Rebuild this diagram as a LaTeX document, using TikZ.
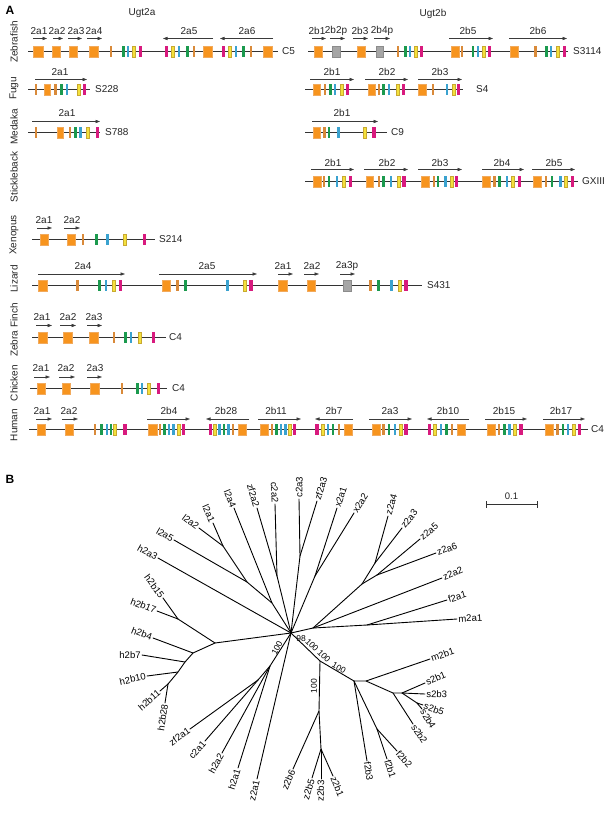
\documentclass[tikz,border=0pt]{standalone}
\usepackage{fontspec}
\setmainfont{Liberation Sans}
\usetikzlibrary{arrows.meta}
\definecolor{cOr}{HTML}{F7941E}
\definecolor{cOrE}{HTML}{F2AA5C}
\definecolor{cTan}{HTML}{D98A3A}
\definecolor{cGr}{HTML}{1B9A4E}
\definecolor{cBl}{HTML}{3AA2CF}
\definecolor{cYe}{HTML}{F3E13C}
\definecolor{cYeE}{HTML}{C9A930}
\definecolor{cMa}{HTML}{D81A7E}
\definecolor{cGy}{HTML}{A6A6A6}
\definecolor{cGyE}{HTML}{8C8C8C}
\definecolor{cLine}{HTML}{333333}
\definecolor{cArr}{HTML}{3A3A3A}
\newcount\nodecnt
\newcommand\exonbar[4]{\filldraw[#1] ({#2-#4},{\ry-5.8}) rectangle ({#2+#4},{\ry+5.8});}
\newcommand\ExT[1]{\exonbar{exT}{#1}{}{1.2}}
\newcommand\ExG[1]{\exonbar{exG}{#1}{}{1.35}}
\newcommand\ExB[1]{\exonbar{exB}{#1}{}{1.2}}
\newcommand\ExY[1]{\exonbar{exY}{#1}{}{1.6}}
\newcommand\ExM[1]{\exonbar{exM}{#1}{}{1.7}}
\newcommand\ExO[2]{\filldraw[exO] (#1,{\ry-5.8}) rectangle (#2,{\ry+5.8});}
\newcommand\ExP[2]{\filldraw[exP] (#1,{\ry-5.8}) rectangle (#2,{\ry+5.8});}
\newcommand\GL[2]{\global\advance\nodecnt by 1 \node[glab] (g\the\nodecnt) at (#1,\ly) {#2};}
\newcommand\CL[2]{\global\advance\nodecnt by 1 \node[clab] (c\the\nodecnt) at (#1,\ry) {#2};}
\newcommand\AR[2]{\draw[garrow] (#1,\ay) -- (#2,\ay);}
\newcommand\CH[2]{\draw[chrom] (#1,\ry) -- (#2,\ry);}
\newcommand\LF[5]{\coordinate (#1) at (#2); \draw[br] (#3) -- (#1); \node[lf, rotate=#4, anchor=#5] (T#1) at (#1) {#1};}
\begin{document}
\begin{tikzpicture}[x=1pt,y=-1pt,
  chrom/.style={line width=1pt, draw=cLine},
  garrow/.style={line width=0.6pt, draw=cArr, -{Triangle[length=4.5pt,width=3.2pt]}},
  exO/.style={fill=cOr, draw=cOrE, line width=0.35pt},
  exP/.style={fill=cGy, draw=cGyE, line width=0.35pt},
  exT/.style={fill=cTan, draw=none},
  exG/.style={fill=cGr, draw=none},
  exB/.style={fill=cBl, draw=none},
  exY/.style={fill=cYe, draw=cYeE, line width=0.3pt},
  exM/.style={fill=cMa, draw=none},
  glab/.style={font=\fontsize{10}{12}\selectfont, inner sep=0pt, text=black!85},
  clab/.style={font=\fontsize{10}{12}\selectfont, inner sep=0pt, anchor=west, text=black!85},
  sp/.style={font=\fontsize{10}{12}\selectfont, inner sep=0pt, rotate=90, text=black!85},
  br/.style={line width=0.9pt, line cap=round},
  lf/.style={font=\fontsize{9.5}{11}\selectfont, inner sep=1.2pt},
  bs/.style={font=\fontsize{8.5}{10}\selectfont, inner sep=0pt},
  pl/.style={font=\fontsize{12}{14}\selectfont\bfseries, inner sep=0pt}
]
\useasboundingbox (0,0) rectangle (609,813);
\fill[white] (0,0) rectangle (609,813);
\node[pl] (pA) at (10,10) {A};
\node[pl] (pB) at (10,479) {B};
\node[glab] (u2a) at (142,13.5) {Ugt2a};
\node[glab] (u2b) at (433,13.5) {Ugt2b};
% species
\node[sp] (sZf) at (14,42) {Zebrafish};
\node[sp] (sFu) at (14,88.5) {Fugu};
\node[sp] (sMe) at (14,127) {Medaka};
\node[sp] (sSt) at (14,177) {Stickleback};
\node[sp] (sXe) at (14,235) {Xenopus};
\node[sp] (sLi) at (14,279) {Lizard};
\node[sp] (sZb) at (14,330) {Zebra Finch};
\node[sp] (sCh) at (14,383) {Chicken};
\node[sp] (sHu) at (14,425) {Human};
% ---------------- Zebrafish
\def\ry{51.5}\def\ly{31}\def\ay{38.5}
\CH{28}{278}
\ExO{33}{43}\ExO{52}{60}\ExO{69}{77}\ExO{89}{98}
\ExT{111}\ExG{123.5}\ExB{128}\ExY{133.5}\ExM{140.5}
\ExM{166.5}\ExY{172.5}\ExB{179}\ExG{187.5}\ExT{194}\ExO{203}{212}
\ExM{223.5}\ExY{229.5}\ExB{236}\ExG{243.5}\ExT{251}\ExO{263}{272}
\CL{282}{C5}
\GL{39}{2a1}\GL{57}{2a2}\GL{76}{2a3}\GL{94}{2a4}\GL{189}{2a5}\GL{247}{2a6}
\AR{33}{47}\AR{53}{63}\AR{68}{82}\AR{87}{102}\AR{213}{163}\AR{273}{220}
\CH{308}{568}
\ExO{314}{322}\ExP{332}{340}\ExO{357}{365}\ExP{376}{383}
\ExT{398}\ExG{405.5}\ExB{410}\ExY{415.5}\ExM{421.5}
\ExO{451}{459}\ExT{462}\ExG{473}\ExB{478}\ExY{483.5}\ExM{489.5}
\ExO{510}{518}\ExT{535.5}\ExG{546.5}\ExB{551}\ExY{557.5}\ExM{564.5}
\CL{573}{S3114}
\GL{317}{2b1}\GL{336}{2b2p}\GL{360}{2b3}\GL{382}{2b4p}\GL{468}{2b5}\GL{538}{2b6}
\AR{312}{326}\AR{330}{345}\AR{353}{368}\AR{374}{390}\AR{449}{493}\AR{509}{567}
% ---------------- Fugu
\def\ry{89.5}\def\ly{72}\def\ay{79.5}
\CH{28}{90}
\ExT{36}\ExO{44.5}{50.5}\ExT{55.5}\ExG{61.5}\ExB{67}\ExY{78.5}\ExM{84.5}
\CL{95}{S228}\GL{60}{2a1}\AR{35}{87}
\CH{305}{463}
\ExO{313}{320}\ExT{325}\ExG{330.5}\ExB{335}\ExY{341.5}\ExM{347.5}
\ExO{368}{375}\ExT{379}\ExG{383.5}\ExB{389}\ExY{397.5}\ExM{403.5}
\ExO{418}{426}\ExT{433}\ExB{447}\ExY{453.5}\ExM{458.5}
\CL{476}{S4}
\GL{332}{2b1}\GL{387}{2b2}\GL{440}{2b3}
\AR{310}{354}\AR{365}{408}\AR{418}{462}
% ---------------- Medaka
\def\ry{132.5}\def\ly{113}\def\ay{121.5}
\CH{28}{100}
\ExT{36}\ExO{57}{63}\ExT{70}\ExG{75.5}\ExB{80.5}\ExY{87.5}\ExM{97.5}
\CL{105}{S788}\GL{67}{2a1}\AR{32}{100}
\CH{305}{387}
\ExO{313}{320}\ExT{324.5}\ExG{329}\ExB{338.5}\ExY{365}\ExM{374}
\CL{391}{C9}\GL{342}{2b1}\AR{312}{378}
% ---------------- Stickleback
\def\ry{181.5}\def\ly{163}\def\ay{169.5}
\CH{305}{578}
\ExO{313}{321}\ExT{324}\ExG{329}\ExB{337}\ExY{343.5}\ExM{350.5}
\ExO{366}{373}\ExT{379}\ExG{383.5}\ExB{391}\ExY{398.5}\ExM{404}
\ExO{421}{429}\ExT{434}\ExG{438}\ExB{445.5}\ExY{451.5}\ExM{456.5}
\ExO{482}{490}\ExT{494.5}\ExG{499.5}\ExB{507}\ExY{512.5}\ExM{519.5}
\ExO{533}{541}\ExT{546}\ExG{552}\ExB{560.5}\ExY{565.5}\ExM{572.5}
\CL{582}{GXIII}
\GL{333}{2b1}\GL{387}{2b2}\GL{440}{2b3}\GL{502}{2b4}\GL{554}{2b5}
\AR{311}{354}\AR{364}{408}\AR{418}{462}\AR{482}{524}\AR{532}{575}
% ---------------- Xenopus
\def\ry{239.5}\def\ly{220}\def\ay{228}
\CH{32}{155}
\ExO{40}{48}\ExO{67}{75}\ExT{83}\ExG{96.5}\ExB{107.5}\ExY{124.5}\ExM{144.5}
\CL{159}{S214}
\GL{44}{2a1}\GL{72}{2a2}
\AR{37}{52}\AR{64}{80}
% ---------------- Lizard
\def\ry{285.5}\def\ly{266}\def\ay{274}
\CH{32}{422}
\ExO{38}{47}\ExT{77.5}\ExG{99.5}\ExB{106}\ExY{114}\ExM{120.5}
\ExO{162}{170}\ExT{177.5}\ExG{185.5}\ExB{227.5}\ExY{245}\ExM{251}
\ExO{278}{287}\ExO{307}{315}\ExP{343}{351}
\ExT{370.5}\ExG{378.5}\ExB{391.5}\ExY{399.5}\ExM{406}
\CL{427}{S431}
\GL{83}{2a4}\GL{207}{2a5}\GL{283}{2a1}\GL{312}{2a2}\GL{347}{2a3p}
\AR{38}{125}\AR{159}{257}\AR{278}{293}\AR{304}{319}\AR{340}{355}
% ---------------- Zebra Finch
\def\ry{337.5}\def\ly{317}\def\ay{325.5}
\CH{32}{166}
\ExO{38}{47}\ExO{63}{72}\ExO{89}{98}\ExT{114}\ExG{125.5}\ExB{131}\ExY{139.5}\ExM{153.5}
\CL{169}{C4}
\GL{42}{2a1}\GL{68}{2a2}\GL{94}{2a3}
\AR{36}{52}\AR{60}{76}\AR{87}{102}
% ---------------- Chicken
\def\ry{388.5}\def\ly{368}\def\ay{377}
\CH{30}{167}
\ExO{37}{45}\ExO{62}{70}\ExO{90}{99}\ExT{122}\ExG{137.5}\ExB{142}\ExY{148.5}\ExM{158.5}
\CL{172}{C4}
\GL{41}{2a1}\GL{66}{2a2}\GL{95}{2a3}
\AR{34}{50}\AR{59}{75}\AR{87}{102}
% ---------------- Human
\def\ry{429.5}\def\ly{411}\def\ay{419}
\CH{29}{588}
\ExO{37}{45}\ExO{65}{73}
\ExT{95}\ExG{101.5}\ExB{107}\ExG{111}\ExY{115}\ExM{125}
\ExO{148}{157}\ExT{160}\ExG{164.5}\ExB{169}\ExB{173.5}\ExY{178.5}\ExM{183.5}
\ExM{210.5}\ExY{215}\ExB{219.5}\ExG{224}\ExB{228.5}\ExT{233}\ExO{238}{246}
\ExO{260}{268}\ExT{272}\ExG{276.5}\ExB{281}\ExB{285.5}\ExY{289.5}\ExM{294.5}
\ExM{317}\ExY{323}\ExB{328}\ExG{333}\ExT{339}\ExO{344}{352}
\ExO{372}{380}\ExT{383.5}\ExG{389}\ExB{395}\ExY{400.5}\ExM{406}
\ExM{429.5}\ExY{435}\ExB{441}\ExG{446.5}\ExT{452}\ExO{457}{465}
\ExO{487}{495}\ExT{499}\ExG{504.5}\ExB{509.5}\ExY{515}\ExM{521}
\ExO{545}{553}\ExT{557.5}\ExG{563}\ExB{568}\ExY{574}\ExM{579.5}
\CL{591}{C4}
\GL{42}{2a1}\GL{69}{2a2}\GL{169}{2b4}\GL{226}{2b28}\GL{276}{2b11}\GL{334}{2b7}
\GL{390}{2a3}\GL{448}{2b10}\GL{504}{2b15}\GL{561}{2b17}
\AR{36}{52}\AR{62}{78}\AR{147}{190}\AR{249}{206}\AR{258}{301}\AR{353}{315}
\AR{369}{412}\AR{469}{427}\AR{485}{527}\AR{543}{585}
% ================= Tree
\begin{scope}[yshift=4pt]
\coordinate (H) at (291,637);
\coordinate (L2) at (272,607); \coordinate (L1) at (247,586); \coordinate (Lp) at (223,550);
\coordinate (ZC2) at (277,580); \coordinate (CZ3) at (300,560); \coordinate (X) at (315,580);
\coordinate (R) at (313,632); \coordinate (Z3) at (362,588); \coordinate (Z2) at (375,567);
\coordinate (Z4) at (377,579); \coordinate (FM) at (367,629);
\coordinate (B1) at (320,665); \coordinate (Zb1) at (319,715); \coordinate (Zb2) at (321,753);
\coordinate (F0) at (354,685); \coordinate (Fb) at (377,733); \coordinate (MS) at (366,685);
\coordinate (S0) at (393,697); \coordinate (S1) at (402,697); \coordinate (S2) at (417,707);
\coordinate (D1) at (270,670); \coordinate (D2) at (258,684);
\coordinate (NH1) at (215,647); \coordinate (HB1) at (178,623); \coordinate (NH2) at (193,657);
\coordinate (NH3) at (185,666); \coordinate (NH4) at (178,676); \coordinate (NH5) at (168,688);
\draw[br] (H) -- (L2) -- (L1) -- (Lp);
\draw[br] (H) -- (ZC2); \draw[br] (H) -- (CZ3); \draw[br] (H) -- (X);
\draw[br] (H) -- (R) -- (Z3) -- (Z2); \draw[br] (Z3) -- (Z4); \draw[br] (R) -- (FM);
\draw[br] (H) -- (B1) -- (Zb1) -- (Zb2); \draw[br] (B1) -- (F0) -- (Fb);
\draw[br] (F0) -- (MS) -- (S0) -- (S1) -- (S2);
\draw[br] (H) -- (D1) -- (D2);
\draw[br] (H) -- (NH1) -- (HB1); \draw[br] (NH1) -- (NH2) -- (NH3) -- (NH4) -- (NH5);
\LF{l2a5}{174,544}{L1}{-30}{east}
\LF{l2a2}{199,532}{Lp}{-37}{east}
\LF{l2a1}{213,527}{Lp}{-66}{east}
\LF{l2a4}{234,512}{L2}{-68}{east}
\LF{zf2a2}{257,512}{ZC2}{-74}{east}
\LF{c2a2}{275,508}{ZC2}{-88}{east}
\LF{c2a3}{299,503}{CZ3}{89}{west}
\LF{zf2a3}{317,505}{CZ3}{73}{west}
\LF{x2a1}{337,512}{X}{72}{west}
\LF{x2a2}{354,517}{X}{58}{west}
\LF{z2a4}{388,520}{Z2}{74}{west}
\LF{z2a3}{402,532}{Z2}{52}{west}
\LF{z2a5}{420,543}{Z4}{40}{west}
\LF{z2a6}{436,557}{Z4}{20}{west}
\LF{z2a2}{442,582}{R}{22}{west}
\LF{f2a1}{447,604}{FM}{17}{west}
\LF{m2a1}{457,623}{FM}{3}{west}
\LF{m2b1}{430,663}{MS}{19}{west}
\LF{s2b1}{425,687}{S1}{23}{west}
\LF{s2b3}{425,698}{S1}{-2}{west}
\LF{s2b5}{423,709}{S2}{-20}{west}
\LF{s2b4}{422,713}{S2}{-58}{west}
\LF{s2b2}{413,728}{S0}{-57}{west}
\LF{f2b2}{397,755}{Fb}{-48}{west}
\LF{f2b1}{387,763}{Fb}{-72}{west}
\LF{f2b3}{367,765}{F0}{-81}{west}
\LF{z2b1}{333,780}{Zb2}{-68}{west}
\LF{z2b3}{321,783}{Zb2}{88}{east}
\LF{z2b5}{312,782}{Zb2}{73}{east}
\LF{z2b6}{293,773}{Zb1}{67}{east}
\LF{z2a1}{257,783}{H}{77}{east}
\LF{h2a1}{238,772}{D1}{72}{east}
\LF{h2a2}{222,757}{D1}{61}{east}
\LF{c2a1}{205,745}{D2}{49}{east}
\LF{zf2a1}{190,733}{D2}{36}{east}
\LF{h2b28}{165,707}{NH5}{81}{east}
\LF{h2b11}{160,695}{NH5}{41}{east}
\LF{h2b10}{147,680}{NH4}{12}{east}
\LF{h2b7}{142,659}{NH3}{0}{east}
\LF{h2b4}{153,642}{NH2}{-21}{east}
\LF{h2b17}{157,615}{HB1}{-21}{east}
\LF{h2b15}{163,602}{HB1}{-54}{east}
\LF{h2a3}{158,562}{H}{-29}{east}
% bootstrap
\node[bs] (b98) at (301,643) {98};
\node[bs, rotate=-45] (b1) at (312,649) {100};
\node[bs, rotate=-45] (b2) at (324,660) {100};
\node[bs, rotate=-30] (b3) at (339,672) {100};
\node[bs, rotate=90] (b4) at (314,690) {100};
\node[bs, rotate=62] (b5) at (277,652) {100};
% scale bar
\coordinate (sb1) at (486,508); \coordinate (sb2) at (537,508);
\draw[line width=0.9pt, draw=cLine] (sb1) -- (sb2);
\draw[line width=0.9pt, draw=cLine] ([yshift=-3.5pt]sb1) -- ([yshift=3.5pt]sb1);
\draw[line width=0.9pt, draw=cLine] ([yshift=-3.5pt]sb2) -- ([yshift=3.5pt]sb2);
\node[glab, font=\fontsize{9.5}{11}\selectfont] (sbl) at (511.5,500) {0.1};
\end{scope}
\end{tikzpicture}
\end{document}
